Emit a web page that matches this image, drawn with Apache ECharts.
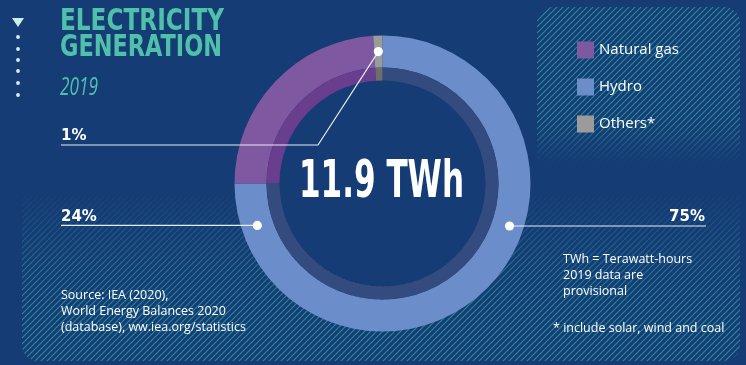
<!DOCTYPE html>
<html><head><meta charset="utf-8">
<script src="https://cdn.jsdelivr.net/npm/echarts@6/dist/echarts.min.js"></script>
<style>html,body{margin:0;padding:0;background:#153c74;}#c{width:746px;height:365px;}</style>
</head><body><div id="c"></div>
<script>
// ---- data ----
const categories = ['Hydro', 'Natural gas', 'Others*'];
const shares = [75, 24, 1];
const legendOrder = ['Natural gas', 'Hydro', 'Others*'];
const totalLabel = '11.9 TWh';
const titleLines = ['ELECTRICITY', 'GENERATION'];
const yearLabel = '2019';
const sourceLines = ['Source: IEA (2020),', 'World Energy Balances 2020', '(database), ww.iea.org/statistics'];
const noteLines = ['TWh = Terawatt-hours', '2019 data are', 'provisional'];
const footNote = '* include solar, wind and coal';

// ---- style ----
const BG = '#153c74';
const outerColors = ['#6b8dc9', '#7e58a1', '#9b9b9b'];
const innerColors = ['#344b80', '#693e8e', '#6e6e6e'];
const TEAL = '#4fc0aa';
const CX = 382.5, CY = 183.5, R_OUT = 148, R_MID = 116, R_IN = 103;
const START = 90;

function measure(text, font) {
  const g = document.createElement('canvas').getContext('2d');
  g.font = font; return g.measureText(text).width;
}
function makeHatch() {
  const s = 6, c = document.createElement('canvas');
  c.width = s; c.height = s;
  const g = c.getContext('2d');
  g.strokeStyle = '#2a8a99'; g.lineWidth = 1.2;
  g.beginPath();
  g.moveTo(-1, s + 1); g.lineTo(s + 1, -1);
  g.moveTo(-s / 2 - 1, s / 2 + 1); g.lineTo(s / 2 + 1, -s / 2 - 1);
  g.moveTo(s / 2 - 1, s * 1.5 + 1); g.lineTo(s * 1.5 + 1, s / 2 - 1);
  g.stroke();
  return c;
}
const hatch = { image: makeHatch(), repeat: 'repeat' };
const bgA = a => 'rgba(21,60,116,' + a + ')';
const grad = stops => new echarts.graphic.LinearGradient(0, 0, 0, 1, stops.map(s => ({ offset: s[0], color: bgA(s[1]) })));

const total = shares.reduce((a, b) => a + b, 0);
function midAngle(idx) {
  let acc = 0; for (let i = 0; i < idx; i++) acc += shares[i];
  const mid = acc + shares[idx] / 2;
  return START - mid / total * 360;
}
function ptAt(angDeg, r) {
  const a = angDeg * Math.PI / 180;
  return [CX + r * Math.cos(a), CY - r * Math.sin(a)];
}
const rDot = (R_OUT + R_MID) / 2;
const pHydro = ptAt(-18.5, rDot + 2);
const pGas = ptAt(198.5, rDot);
const pOther = ptAt(midAngle(2), rDot);
const pct = i => shares[i] + '%';

const titleFont = 'bold 31px "Liberation Sans Narrow", "DejaVu Sans Condensed", sans-serif';
const centerFont = 'bold 52px "Liberation Sans Narrow", "DejaVu Sans Condensed", sans-serif';
const yearFont = 'italic 26px "Open Sans", sans-serif';

function scaledText(text, font, x, y, targetW, fill, align) {
  const sx = targetW / measure(text, font);
  return { type: 'text', x: x, y: y, scaleX: sx, z: 10,
    style: { text: text, font: font, fill: fill, align: align || 'left', verticalAlign: 'middle' } };
}
function txt(text, x, y, font, fill, align, lh) {
  return { type: 'text', x: x, y: y, z: 10,
    style: { text: text, font: font, fill: fill, align: align || 'left', verticalAlign: lh ? 'top' : 'middle', lineHeight: lh } };
}
const pctFont = 'bold 15px "DejaVu Sans", sans-serif';
const bodyFont = '12.5px "Open Sans", sans-serif';
const lineStyle = { stroke: '#e6ecf4', lineWidth: 1.2 };

const JOIN = 165;
const elements = [
  { type: 'rect', z: 0, z2: 1, shape: { x: 537, y: 7, width: 203, height: JOIN - 7, r: [16, 16, 0, 0] }, style: { fill: hatch } },
  { type: 'rect', z: 0, z2: 2, shape: { x: 537, y: 7, width: 203, height: JOIN - 7, r: [16, 16, 0, 0] },
    style: { fill: grad([[0, 0], [0.7, 0], [0.82, 0.35], [0.92, 0.8], [1, 1]]) } },
  { type: 'rect', z: 0, z2: 1, shape: { x: 22, y: JOIN, width: 718, height: 361 - JOIN, r: [0, 0, 16, 16] }, style: { fill: hatch } },
  { type: 'rect', z: 0, z2: 2, shape: { x: 22, y: JOIN, width: 718, height: 361 - JOIN, r: [0, 0, 16, 16] },
    style: { fill: grad([[0, 1], [0.12, 1], [0.25, 0.78], [0.4, 0.52], [0.55, 0.26], [0.7, 0.08], [0.8, 0], [1, 0]]) } },
  { type: 'circle', z: 1, shape: { cx: CX, cy: CY, r: R_IN }, style: { fill: BG } },
  { type: 'polygon', z: 10, shape: { points: [[12, 18], [24, 18], [18, 27]] }, style: { fill: '#cdeee8' } }
];
[37, 49, 60, 71, 83, 95].forEach(y => elements.push({ type: 'circle', z: 10, shape: { cx: 18, cy: y, r: 1.9 }, style: { fill: '#dcefee' } }));

elements.push(scaledText(titleLines[0], titleFont, 60, 22, 164, TEAL));
elements.push(scaledText(titleLines[1], titleFont, 60, 47.5, 162, TEAL));
elements.push(scaledText(yearLabel, yearFont, 60, 88, 38, TEAL));
elements.push(scaledText(totalLabel, centerFont, 299, 183.5, 165, '#ffffff'));

elements.push({ type: 'polyline', z: 10, shape: { points: [[61, 145], [318, 145], pOther] }, style: Object.assign({ fill: null }, lineStyle) });
elements.push({ type: 'line', z: 10, shape: { x1: 61, y1: pGas[1], x2: pGas[0], y2: pGas[1] }, style: lineStyle });
elements.push({ type: 'line', z: 10, shape: { x1: pHydro[0], y1: pHydro[1], x2: 706, y2: pHydro[1] }, style: lineStyle });
[pOther, pGas, pHydro].forEach(p => elements.push({ type: 'circle', z: 11, shape: { cx: p[0], cy: p[1], r: 4.6 }, style: { fill: '#ffffff' } }));
elements.push(txt(pct(2), 61, 136.5, pctFont, '#ffffff'));
elements.push(txt(pct(1), 61, 217, pctFont, '#ffffff'));
elements.push(txt(pct(0), 705, 217, pctFont, '#ffffff', 'right'));

elements.push(txt(sourceLines.join('\n'), 61, 288, bodyFont, '#ffffff', 'left', 15.8));
elements.push(txt(noteLines.join('\n'), 563, 252, bodyFont, '#ffffff', 'left', 15.8));
elements.push(txt(footNote, 553, 328, bodyFont, '#ffffff'));

const chart = echarts.init(document.getElementById('c'), null, { renderer: 'canvas' });
chart.setOption({
  backgroundColor: BG,
  animation: false,
  legend: {
    data: legendOrder, orient: 'vertical', left: 572, top: 36.5,
    icon: 'rect', itemWidth: 17, itemHeight: 17, itemGap: 20, selectedMode: false,
    textStyle: { color: '#ffffff', fontSize: 15, fontFamily: 'Open Sans', padding: [0, 0, 0, 0] }
  },
  series: [
    { type: 'pie', name: 'outer', center: [CX, CY], radius: [R_MID, R_OUT], startAngle: START, clockwise: true,
      silent: true, label: { show: false }, labelLine: { show: false }, itemStyle: { borderWidth: 0 },
      data: categories.map((n, i) => ({ name: n, value: shares[i], itemStyle: { color: outerColors[i] } })) },
    { type: 'pie', name: 'inner', center: [CX, CY], radius: [R_IN, R_MID], startAngle: START, clockwise: true,
      silent: true, label: { show: false }, labelLine: { show: false }, itemStyle: { borderWidth: 0 },
      data: categories.map((n, i) => ({ name: n, value: shares[i], itemStyle: { color: innerColors[i] } })) }
  ],
  graphic: { elements: elements }
});
</script></body></html>
